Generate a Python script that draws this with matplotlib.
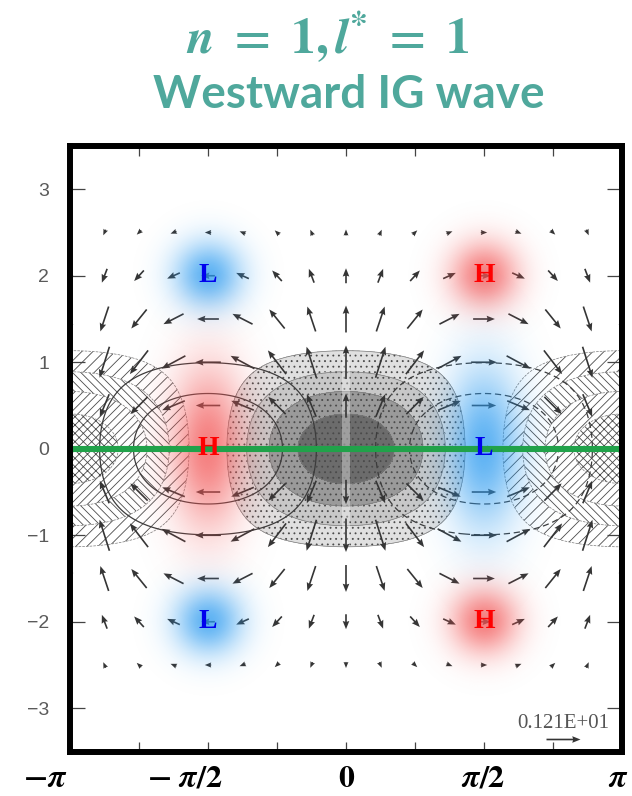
import numpy as np
import matplotlib.pyplot as plt

# Matsuno (1966) equatorial wave, n = 1, k = 1, westward inertia-gravity branch
n_mode = 1
k_wave = 1.0

# shading levels for divergence and contour levels for height
div_levels = [-5.0, -2.4, -1.8, -1.2, -0.6, 0.6, 1.2, 1.8, 2.4, 5.0]
div_colors = ['none', 'none', 'none', 'none', 'none', '#e0e0e0', '#c8c8c8', '#9a9a9a', '#6c6c6c']
div_hatches = ['xxxx', '////', '\\\\\\\\', '///', None, '...', '...', '...', '...']
phi_pos_levels = [0.5, 1.0]
phi_neg_levels = [-1.0, -0.5]

# vector grid
arrow_x = np.arange(-8, 9) * np.pi / 8
arrow_y = np.arange(-5, 6) * 0.5
ref_speed = 1.21

# H / L markers
hl_text = ['L', 'H', 'H', 'L', 'L', 'H']
hl_x = [-np.pi / 2, np.pi / 2, -np.pi / 2, np.pi / 2, -np.pi / 2, np.pi / 2]
hl_y = [2.0, 2.0, 0.0, 0.0, -2.0, -2.0]

# axis labels
ytick_vals = [-3, -2, -1, 0, 1, 2, 3]
ytick_text = ['\u22123', '\u22122', '\u22121', '0', '1', '2', '3']
xlab_text = [r'$\mathbf{-}\boldsymbol{\pi}$', r'$\mathbf{-\ }\boldsymbol{\pi}\mathbf{/2}$',
             r'$\mathbf{0}$', r'$\boldsymbol{\pi}\mathbf{/2}$', r'$\boldsymbol{\pi}$']
xlab_pos = [-3.42, -1.83, 0.01, 1.56, 3.10]

teal = '#4fa89c'

# westward IG root of w^3 - (k^2 + 2n + 1) w - k = 0
roots = np.roots([1.0, 0.0, -(k_wave**2 + 2 * n_mode + 1), -k_wave]).real
omega = roots.min()


def fields(x, y):
    e = np.exp(-y**2 / 2)
    h0 = 1.0
    h1 = 2 * y
    h2 = 4 * y**2 - 2
    a_u = -0.5 * e * (h2 / (omega - k_wave) + 2 * n_mode * h0 / (omega + k_wave))
    a_p = -0.5 * e * (h2 / (omega - k_wave) - 2 * n_mode * h0 / (omega + k_wave))
    u = a_u * np.sin(k_wave * x)
    v = h1 * e * np.cos(k_wave * x)
    phi = a_p * np.sin(k_wave * x)
    div = k_wave * a_u * np.cos(k_wave * x) + 2 * (1 - y**2) * e * np.cos(k_wave * x)
    return u, v, phi, div


plt.rcParams['mathtext.fontset'] = 'stix'
plt.rcParams['hatch.color'] = '#4a4a4a'
plt.rcParams['hatch.linewidth'] = 0.6

fig = plt.figure(figsize=(6.32, 7.96), dpi=100)
ax = fig.add_axes([70 / 632, (796 - 751.5) / 796, 552 / 632, 605.5 / 796])

xg = np.linspace(-np.pi, np.pi, 401)
yg = np.linspace(-3.5, 3.5, 321)
X, Y = np.meshgrid(xg, yg)
U, V, PHI, DIV = fields(X, Y)

ax.contourf(X, Y, DIV, levels=div_levels, colors=div_colors, hatches=div_hatches, zorder=1)
ax.contour(X, Y, DIV, levels=div_levels[1:-1], colors='#7a7a7a', linewidths=0.5, zorder=1.2)

# light vertical stripe of the scan through the centre
ax.fill_between([-0.05, 0.05], -1.12, 1.12, color='white', alpha=0.35, lw=0, zorder=1.5)

ax.contour(X, Y, PHI, levels=phi_pos_levels, colors='#3c3c3c', linewidths=0.9, zorder=2)
ax.contour(X, Y, PHI, levels=phi_neg_levels, colors='#3c3c3c', linewidths=0.9,
           linestyles=[(0, (5, 3))], zorder=2)

XQ, YQ = np.meshgrid(arrow_x, arrow_y)
UQ, VQ, _, _ = fields(XQ, YQ)
q = ax.quiver(XQ, YQ, UQ, VQ, angles='xy', scale_units='xy', scale=ref_speed / 0.387,
              pivot='mid', color='#353535', width=0.003, headwidth=4.0,
              headlength=5, headaxislength=4.5, zorder=3)
ax.quiverkey(q, 0.893, 0.021, ref_speed, '0.121E+01', labelpos='N', coordinates='axes',
             color='#353535', labelcolor='#555555', labelsep=0.06,
             fontproperties={'family': 'Liberation Serif', 'size': 15})


# coloured glows behind the H / L letters
def glow(xc, yc, color, sx, sy, amax):
    gx = np.linspace(xc - 3 * sx, xc + 3 * sx, 120)
    gy = np.linspace(yc - 3 * sy, yc + 3 * sy, 120)
    GX, GY = np.meshgrid(gx, gy)
    a = amax * np.exp(-(((GX - xc) / sx)**2 + ((GY - yc) / sy)**2))
    rgba = np.zeros(GX.shape + (4,))
    rgba[..., :3] = plt.matplotlib.colors.to_rgb(color)
    rgba[..., 3] = a
    ax.imshow(rgba, extent=[gx[0], gx[-1], gy[0], gy[-1]], origin='lower',
              interpolation='bilinear', aspect='auto', zorder=4)


for t, xc, yc in zip(hl_text, hl_x, hl_y):
    col = '#f25555' if t == 'H' else '#2a9af0'
    if yc == 0:
        glow(xc, yc, col, 0.42, 0.9, 0.75)
    else:
        glow(xc, yc, col, 0.38, 0.38, 0.75)

ax.axhline(0, color='#21a24a', lw=4.4, zorder=5)

for t, xc, yc in zip(hl_text, hl_x, hl_y):
    ax.text(xc, yc, t, color='#ff0000' if t == 'H' else '#0000ee', fontsize=20,
            fontweight='bold', family='Liberation Serif', ha='center', va='center', zorder=6)

ax.set_xlim(-np.pi, np.pi)
ax.set_ylim(-3.5, 3.5)

ax.set_xticks(np.arange(-3, 4) * np.pi / 4)
ax.set_yticks(ytick_vals)
ax.set_yticklabels(ytick_text, family='Liberation Sans', fontsize=14, color='#5a5a5a')
ax.tick_params(axis='both', direction='in', top=True, right=True, width=0.9, colors='#444444')
ax.tick_params(axis='x', length=7, labelbottom=False)
ax.tick_params(axis='y', length=11, pad=15, labelcolor='#5a5a5a')
for sp in ax.spines.values():
    sp.set_linewidth(4.3)
    sp.set_color('black')
    sp.set_zorder(10)

for lab, xp in zip(xlab_text, xlab_pos):
    ax.text(xp, -0.044, lab, transform=ax.get_xaxis_transform(), ha='center', va='center',
            fontsize=23, color='black', clip_on=False)

fig.text(0.518, 1 - 37 / 796,
         r'$\boldsymbol{n}\mathbf{\ =\ 1,}\boldsymbol{l}^{\boldsymbol{*}}\mathbf{\ =\ 1}$',
         color=teal, fontsize=36, ha='center', va='center')
fig.text(0.552, 1 - 95 / 796, 'Westward IG wave', color=teal, fontsize=33,
         family='Lato', fontweight='bold', ha='center', va='center')

fig.savefig('out.png', dpi=100)
